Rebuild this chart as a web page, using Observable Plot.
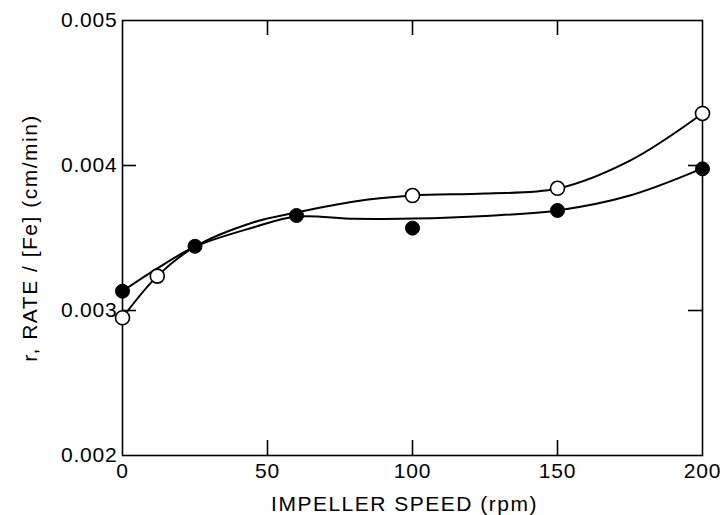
<!DOCTYPE html>
<html><head><meta charset="utf-8">
<script src="https://cdn.jsdelivr.net/npm/d3@7"></script>
<script src="https://cdn.jsdelivr.net/npm/@observablehq/plot@0.6"></script>
<style>body{margin:0;background:#fff} svg text{letter-spacing:0.8px}</style>
</head><body><div id="chart"></div>
<script>
// Open circles (measured points)
const openSpeed = [0, 12, 100, 150, 200];
const openRate  = [0.00295, 0.003237, 0.003793, 0.003843, 0.004359];
// Filled circles (measured points)
const filledSpeed = [0, 25, 60, 100, 150, 200];
const filledRate  = [0.003133, 0.003443, 0.003655, 0.003568, 0.00369, 0.003977];
// Hand-drawn smooth curves
const openCurveSpeed = [0, 12, 25, 45, 60, 80, 100, 125, 150, 175, 200];
const openCurveRate  = [0.00295, 0.003237, 0.00344, 0.003607, 0.003676, 0.003752, 0.003793, 0.003807, 0.003841, 0.004034, 0.004359];
const filledCurveSpeed = [0, 12, 25, 45, 60, 80, 100, 125, 150, 175, 200];
const filledCurveRate  = [0.003133, 0.00329, 0.00344, 0.003572, 0.003648, 0.003632, 0.003634, 0.003652, 0.00369, 0.003793, 0.00398];
// Axis ticks
const xTicks = [0, 50, 100, 150, 200];
const yTicks = [0.002, 0.003, 0.004, 0.005];
const xInner = [50, 100, 150];
const yInner = [0.003, 0.004];
const xTitle = "IMPELLER SPEED (rpm)";
const yTitle = "r, RATE / [Fe] (cm/min)";

const zip = (xs, ys) => xs.map((x, i) => ({x, y: ys[i]}));
const openPts = zip(openSpeed, openRate);
const filledPts = zip(filledSpeed, filledRate);
const openCurve = zip(openCurveSpeed, openCurveRate);
const filledCurve = zip(filledCurveSpeed, filledCurveRate);

const W = 720, H = 515, mL = 122, mR = 18, mT = 20, mB = 60;
const fw = W - mL - mR, fh = H - mT - mB;
const font = "Liberation Sans, Arial, sans-serif";

const chart = Plot.plot({
  width: W, height: H,
  marginLeft: mL, marginRight: mR, marginTop: mT, marginBottom: mB,
  style: {fontFamily: font, background: "#fff", color: "#000"},
  x: {domain: [0, 200]},
  y: {domain: [0.002, 0.005]},
  marks: [
    Plot.frame({stroke: "#000", strokeWidth: 1.6}),
    Plot.axisX(xTicks, {tickSize: 0, tickPadding: 8, fontSize: 21, tickFormat: d => String(d), label: null}),
    Plot.axisY(yTicks, {tickSize: 0, tickPadding: 5, fontSize: 21, tickFormat: d => d.toFixed(3), label: null}),
    Plot.tickX(xInner, {x: d => d, insetTop: fh - 15, stroke: "#000", strokeWidth: 1.6}),
    Plot.tickX(xInner, {x: d => d, insetBottom: fh - 15, stroke: "#000", strokeWidth: 1.6}),
    Plot.tickY(yInner, {y: d => d, insetRight: fw - 14, stroke: "#000", strokeWidth: 1.6}),
    Plot.tickY(yInner, {y: d => d, insetLeft: fw - 14, stroke: "#000", strokeWidth: 1.6}),
    Plot.line(openCurve, {x: "x", y: "y", curve: "catmull-rom", stroke: "#000", strokeWidth: 2}),
    Plot.line(filledCurve, {x: "x", y: "y", curve: "catmull-rom", stroke: "#000", strokeWidth: 2}),
    Plot.dot(openPts, {x: "x", y: "y", r: 7, fill: "#fff", stroke: "#000", strokeWidth: 1.6}),
    Plot.dot(filledPts, {x: "x", y: "y", r: 7, fill: "#000", stroke: "#000", strokeWidth: 1}),
    Plot.text([xTitle], {frameAnchor: "bottom", lineAnchor: "middle", textAnchor: "middle", dy: 49, dx: -8, fontSize: 21, fill: "#000", style: "letter-spacing:1.5px"}),
    Plot.text([yTitle], {frameAnchor: "left", textAnchor: "middle", lineAnchor: "middle", rotate: -90, dx: -92, dy: 0, fontSize: 21, fill: "#000"})
  ]
});
chart.querySelectorAll("text").forEach(t => {
  if (t.textContent === xTitle || t.textContent === yTitle) t.style.letterSpacing = "1.5px";
});
document.getElementById("chart").appendChild(chart);
</script>
</body></html>
